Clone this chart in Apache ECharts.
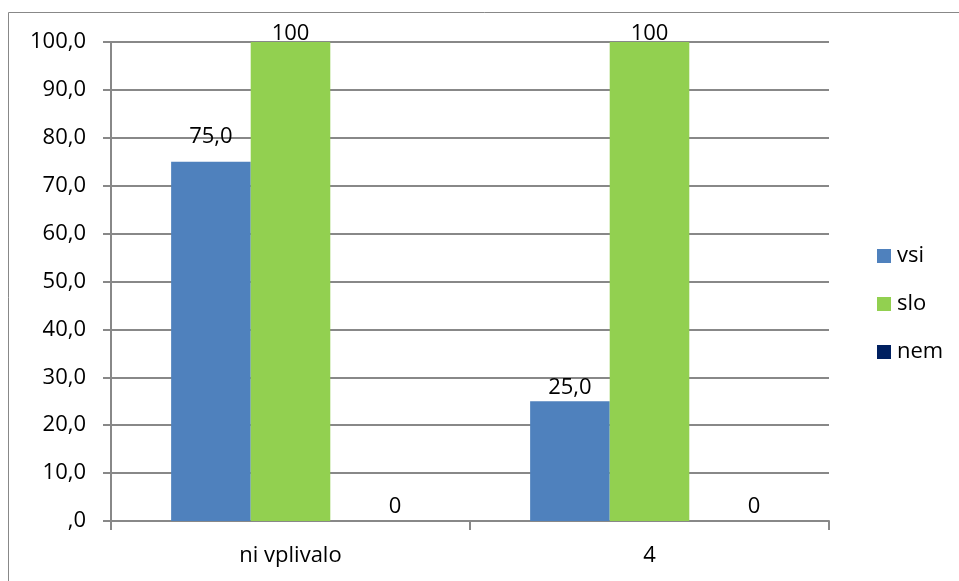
<!DOCTYPE html>
<html>
<head>
<meta charset="utf-8">
<script src="https://cdn.jsdelivr.net/npm/echarts@6/dist/echarts.min.js"></script>
<style>html,body{margin:0;padding:0;background:#fff}#c{width:959px;height:581px}</style>
</head>
<body>
<div id="c"></div>
<script>
const categories = ['ni vplivalo', '4'];
const vsi = [75, 25];
const slo = [100, 100];
const nem = [0, 0];
const seriesNames = ['vsi', 'slo', 'nem'];
const colors = ['#4F81BD', '#92D050', '#002060'];

const FONT = 'Open Sans';
const FS = 22;
const chart = echarts.init(document.getElementById('c'), null, {renderer: 'canvas'});
const lblBase = {show: true, position: 'top', color: '#000', fontFamily: FONT, fontSize: FS, distance: 3};

chart.setOption({
  animation: false,
  textStyle: {fontFamily: FONT},
  graphic: [{type: 'rect', shape: {x: 8.5, y: 12.5, width: 1000, height: 1000}, style: {fill: 'none', stroke: '#888', lineWidth: 1}, z: -1}],
  grid: {left: 111, right: 130, top: 42, bottom: 60},
  legend: {
    orient: 'vertical', left: 872, top: 240, itemWidth: 14, itemHeight: 14, itemGap: 26,
    icon: 'rect', textStyle: {fontFamily: FONT, fontSize: FS, color: '#000', padding: [0, 0, 0, 1]},
    data: seriesNames
  },
  xAxis: {
    type: 'category', data: categories,
    axisLine: {lineStyle: {color: '#888', width: 2}},
    axisTick: {show: true, length: 9, lineStyle: {color: '#888', width: 2}},
    axisLabel: {color: '#000', fontFamily: FONT, fontSize: FS, margin: 24}
  },
  yAxis: {
    type: 'value', min: 0, max: 100, interval: 10,
    axisLine: {show: true, lineStyle: {color: '#888', width: 2}},
    axisTick: {show: true, length: 8, lineStyle: {color: '#888', width: 2}},
    splitLine: {lineStyle: {color: '#888', width: 2}},
    axisLabel: {color: '#000', fontFamily: FONT, fontSize: FS, margin: 25,
      formatter: v => v === 0 ? ',0' : v.toFixed(1).replace('.', ',')}
  },
  series: [
    {name: 'vsi', type: 'bar', barGap: '0%', barCategoryGap: '33.5%', itemStyle: {color: colors[0]},
      label: Object.assign({}, lblBase, {formatter: p => p.value.toFixed(1).replace('.', ',')}),
      data: vsi.map((v, i) => i === 0 ? {value: v, label: {distance: 14}} : v)},
    {name: 'slo', type: 'bar', itemStyle: {color: colors[1]},
      label: Object.assign({}, lblBase, {distance: -3}), data: slo},
    {name: 'nem', type: 'bar', itemStyle: {color: colors[2]},
      label: Object.assign({}, lblBase, {distance: 3, offset: [25, 0]}), data: nem}
  ]
});
</script>
</body>
</html>
